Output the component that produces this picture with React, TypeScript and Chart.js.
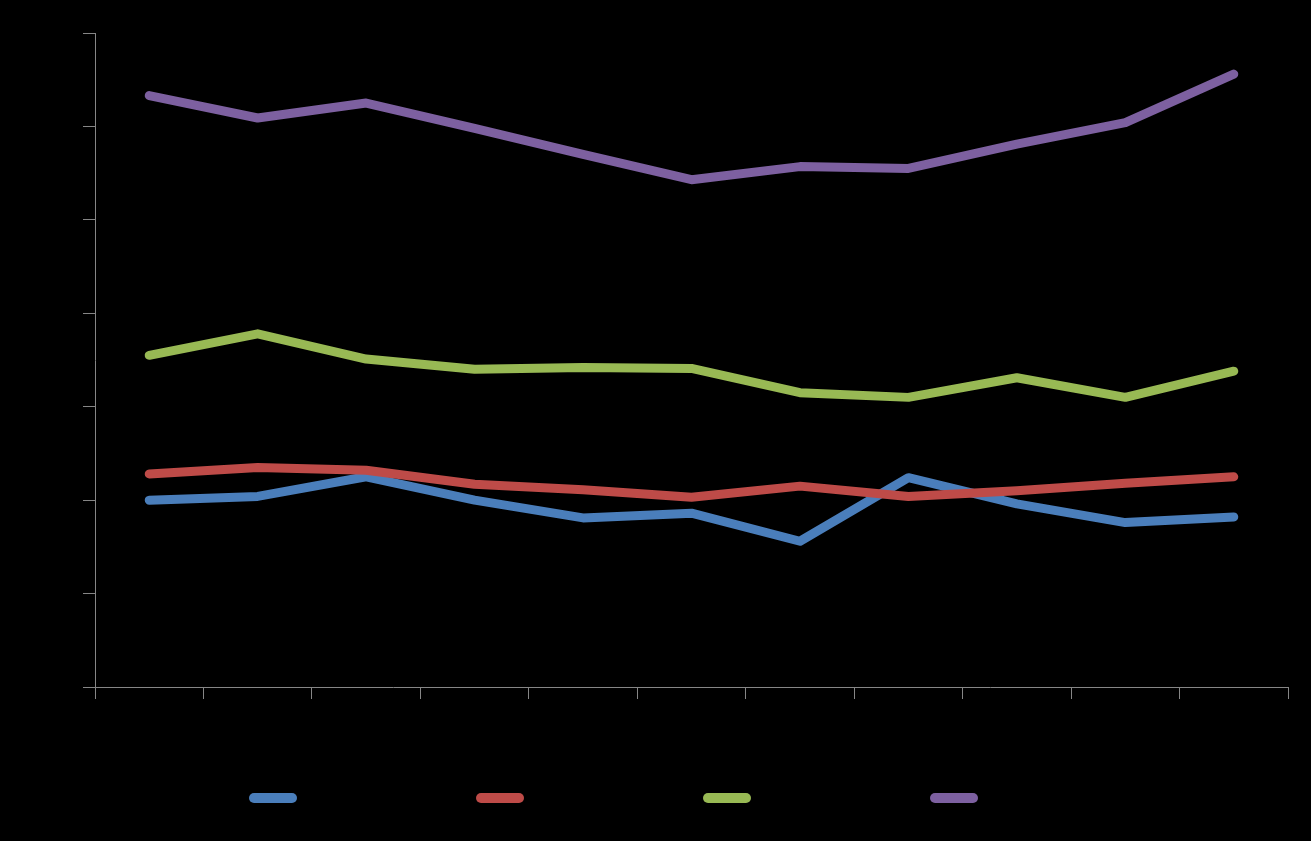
import React, { useEffect, useRef } from "react";
import { Chart, registerables } from "chart.js";

Chart.register(...registerables);

const categories = ["1", "2", "3", "4", "5", "6", "7", "8", "9", "10", "11"];
const seriesNames = ["Series 1", "Series 2", "Series 3", "Series 4"];
const seriesBlue = [2.0, 2.04, 2.25, 2.0, 1.81, 1.86, 1.56, 2.24, 1.96, 1.76, 1.82];
const seriesRed = [2.28, 2.35, 2.32, 2.17, 2.11, 2.03, 2.15, 2.04, 2.1, 2.18, 2.25];
const seriesGreen = [3.55, 3.78, 3.51, 3.4, 3.42, 3.41, 3.15, 3.1, 3.31, 3.1, 3.38];
const seriesPurple = [6.33, 6.09, 6.25, 5.98, 5.7, 5.43, 5.57, 5.55, 5.81, 6.04, 6.56];
const yMin = 0;
const yMax = 7;
const yStep = 1;

const colors = ["#4A7EBB", "#BE4B48", "#98B954", "#7D60A0"];

export default function App() {
  const ref = useRef<HTMLCanvasElement | null>(null);

  useEffect(() => {
    document.body.style.margin = "0";
    document.body.style.background = "#000";
    const canvas = ref.current;
    if (!canvas) return;

    const H = 841;
    const fontSize = 22;
    const fontFamily = '"Liberation Sans", Arial, sans-serif';
    const boxW = 48;
    const mctx = document.createElement("canvas").getContext("2d")!;
    mctx.font = `${fontSize}px ${fontFamily}`;
    const textW = mctx.measureText(seriesNames[0]).width;
    const step = 227;
    const legendPad = step - boxW - fontSize / 2 - textW;
    const padLeft = 118 - legendPad;
    const legendBottom = 798 + 10 + fontSize / 2;
    const padBottom = H - legendBottom;
    const legendTop = legendBottom - (fontSize + legendPad + 10);
    const xAxisH = Math.max(0, legendTop - 687);
    const yAxisW = 95 - padLeft;

    const values = [seriesBlue, seriesRed, seriesGreen, seriesPurple];
    const chart = new Chart(canvas, {
      type: "line",
      data: {
        labels: categories,
        datasets: values.map((v, i) => ({
          label: seriesNames[i],
          data: v,
          borderColor: colors[i],
          backgroundColor: colors[i],
          borderWidth: 9,
          borderCapStyle: "round" as const,
          borderJoinStyle: "round" as const,
          pointRadius: 0,
          pointHoverRadius: 0,
          tension: 0,
          fill: false,
          order: 4 - i,
        })),
      },
      options: {
        responsive: false,
        animation: false,
        events: [],
        layout: { padding: { left: padLeft, right: 23, top: 33, bottom: padBottom } },
        plugins: {
          tooltip: { enabled: false },
          title: { display: false },
          legend: {
            display: true,
            position: "bottom",
            align: "center",
            labels: {
              boxWidth: boxW,
              boxHeight: 10,
              padding: legendPad,
              color: "#000",
              font: { size: fontSize, family: fontFamily },
              generateLabels: (ch: any) =>
                ch.data.datasets.map((ds: any, i: number) => ({
                  text: ds.label,
                  fillStyle: ds.borderColor,
                  strokeStyle: ds.borderColor,
                  lineWidth: 0,
                  borderRadius: 5,
                  hidden: false,
                  datasetIndex: i,
                  fontColor: "#000",
                })),
            },
          },
        },
        scales: {
          x: {
            type: "category",
            offset: true,
            grid: {
              offset: true,
              drawOnChartArea: false,
              drawTicks: true,
              tickLength: 12,
              color: "#868686",
              lineWidth: 1,
            },
            border: { display: true, color: "#868686", width: 1 },
            ticks: { display: false },
            afterFit: (scale: any) => {
              scale.height = xAxisH;
            },
          },
          y: {
            min: yMin,
            max: yMax,
            ticks: { display: false, stepSize: yStep },
            grid: {
              drawOnChartArea: false,
              drawTicks: true,
              tickLength: 12,
              color: "#868686",
              lineWidth: 1,
            },
            border: { display: true, color: "#868686", width: 1 },
            afterFit: (scale: any) => {
              scale.width = yAxisW;
            },
          },
        },
      },
    });
    return () => chart.destroy();
  }, []);

  return (
    <div style={{ width: 1311, height: 841, background: "#000" }}>
      <canvas ref={ref} width={1311} height={841} style={{ display: "block" }} />
    </div>
  );
}
